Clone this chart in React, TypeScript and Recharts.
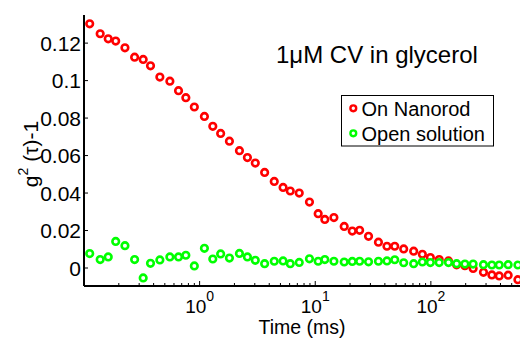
import React from "react";
import { ScatterChart, Scatter, XAxis, YAxis } from "recharts";

// lag times (ms), shared by both curves
const times = [
  0.112, 0.138, 0.162, 0.188, 0.226, 0.274, 0.325, 0.376, 0.453, 0.553,
  0.657, 0.76, 0.9, 1.1, 1.3, 1.52, 1.81, 2.21, 2.59, 3.03,
  3.65, 4.42, 5.27, 6.08, 7.27, 8.91, 10.6, 12.1, 14.5, 17.8,
  20.9, 24.2, 28.9, 35.2, 41.7, 48.7, 58.2, 71.0, 84.4, 99.0,
  118, 142, 167, 197, 232, 285, 337, 390, 466, 566,
];

const onNanorod = [
  0.1303, 0.125, 0.1223, 0.1211, 0.1175, 0.1125, 0.1113, 0.1079, 0.1019, 0.0997,
  0.0946, 0.0909, 0.0859, 0.0809, 0.0756, 0.0718, 0.0677, 0.0626, 0.0589, 0.056,
  0.051, 0.0462, 0.043, 0.0411, 0.04, 0.0352, 0.029, 0.0259, 0.0269, 0.0222,
  0.0197, 0.0201, 0.0169, 0.0138, 0.0116, 0.0116, 0.0102, 0.009, 0.0073, 0.0056,
  0.0045, 0.0038, 0.0017, 0.0012, -0.0002, -0.0023, -0.0037, -0.0042, -0.0038, -0.0062,
];

const openSolution = [
  0.0077, 0.0045, 0.0059, 0.0142, 0.0119, 0.0045, -0.0053, 0.0025, 0.0043, 0.0059,
  0.0059, 0.0068, 0.0011, 0.0105, 0.0048, 0.0075, 0.0053, 0.0078, 0.0059, 0.0041,
  0.0023, 0.0036, 0.0038, 0.0023, 0.003, 0.0049, 0.0036, 0.0045, 0.0036, 0.0032,
  0.0035, 0.0036, 0.0033, 0.0036, 0.0038, 0.0044, 0.0028, 0.0023, 0.0032, 0.0029,
  0.0029, 0.0029, 0.0023, 0.0021, 0.0021, 0.0018, 0.0016, 0.0016, 0.0018, 0.0016,
];

const xMajor = [1, 10, 100];
const xMinor = [
  0.2, 0.3, 0.4, 0.5, 0.6, 0.7, 0.8, 0.9,
  2, 3, 4, 5, 6, 7, 8, 9,
  20, 30, 40, 50, 60, 70, 80, 90,
  200, 300, 400, 500,
];
const yTicks = [0, 0.02, 0.04, 0.06, 0.08, 0.1, 0.12];
const yTickLabels = ["0", "0.02", "0.04", "0.06", "0.08", "0.1", "0.12"];

const nanorodData = times.map((t, i) => ({ t, v: onNanorod[i] }));
const openData = times.map((t, i) => ({ t, v: openSolution[i] }));
const xTicks = [...xMajor, ...xMinor].sort((a, b) => a - b);

const FONT = "'Liberation Sans', Arial, Helvetica, sans-serif";

const BottomTick = (props: any) => {
  const { x, y, payload } = props;
  const major = xMajor.includes(payload.value);
  return (
    <g>
      <line x1={x} y1={y} x2={x} y2={y - (major ? 5 : 3)} stroke="#000" strokeWidth={1} />
      {major && (
        <text x={x} y={y + 27} textAnchor="middle" fontFamily={FONT} fontSize={19} fill="#000">
          <tspan>10</tspan>
          <tspan fontSize={14} dy={-12}>{Math.round(Math.log10(payload.value))}</tspan>
        </text>
      )}
    </g>
  );
};

const TopTick = (props: any) => {
  const { x, y, payload } = props;
  const major = xMajor.includes(payload.value);
  return <line x1={x} y1={y} x2={x} y2={y + (major ? 5 : 3)} stroke="#000" strokeWidth={1} />;
};

const LeftTick = (props: any) => {
  const { x, y, payload } = props;
  const idx = yTicks.indexOf(payload.value);
  return (
    <g>
      <line x1={x} y1={y} x2={x + 4} y2={y} stroke="#000" strokeWidth={1} />
      <text x={x - 3} y={y} dy="0.36em" textAnchor="end" fontFamily={FONT} fontSize={21} fill="#000">
        {yTickLabels[idx]}
      </text>
    </g>
  );
};

const RightTick = (props: any) => {
  const { x, y } = props;
  return <line x1={x} y1={y} x2={x - 4} y2={y} stroke="#000" strokeWidth={1} />;
};

const ring = (color: string) => (p: any) => (
  <circle cx={p.cx} cy={p.cy} r={3.3} fill="#fff" stroke={color} strokeWidth={2.6} />
);

export default function App() {
  return (
    <div style={{ position: "absolute", left: 0, top: 0, width: 522, height: 339, background: "#fff" }}>
      <ScatterChart width={522} height={339} margin={{ top: 15, right: 2, bottom: 0, left: 0 }}>
        <XAxis
          xAxisId="b"
          dataKey="t"
          type="number"
          scale="log"
          domain={[0.1, 590]}
          allowDataOverflow
          ticks={xTicks}
          interval={0}
          height={53}
          tickSize={0}
          tickMargin={0}
          tickLine={false}
          axisLine={{ stroke: "#000", strokeWidth: 2 }}
          tick={<BottomTick />}
          label={{ value: "Time (ms)", position: "insideBottom", offset: 5.5, fontSize: 19.5, fill: "#000", fontFamily: FONT }}
        />
        <XAxis
          xAxisId="t"
          orientation="top"
          type="number"
          scale="log"
          domain={[0.1, 590]}
          allowDataOverflow
          ticks={xTicks}
          interval={0}
          height={0}
          tickSize={0}
          tickMargin={0}
          tickLine={false}
          axisLine={{ stroke: "#000", strokeWidth: 1.5 }}
          tick={<TopTick />}
        />
        <YAxis
          yAxisId="l"
          dataKey="v"
          type="number"
          domain={[-0.0096, 0.135]}
          allowDataOverflow
          ticks={yTicks}
          interval={0}
          width={84}
          tickSize={0}
          tickMargin={0}
          tickLine={false}
          axisLine={{ stroke: "#000", strokeWidth: 2 }}
          tick={<LeftTick />}
        />
        <YAxis
          yAxisId="r"
          orientation="right"
          type="number"
          domain={[-0.0096, 0.135]}
          allowDataOverflow
          ticks={yTicks}
          interval={0}
          width={0}
          tickSize={0}
          tickMargin={0}
          tickLine={false}
          axisLine={false}
          tick={<RightTick />}
        />
        <Scatter
          name="On Nanorod"
          data={nanorodData}
          xAxisId="b"
          yAxisId="l"
          shape={ring("#ff0000")}
          isAnimationActive={false}
        />
        <Scatter
          name="Open solution"
          data={openData}
          xAxisId="b"
          yAxisId="l"
          shape={ring("#00ff00")}
          isAnimationActive={false}
        />
      </ScatterChart>
      <svg
        width={522}
        height={339}
        style={{ position: "absolute", left: 0, top: 0, pointerEvents: "none" }}
        fontFamily={FONT}
      >
        <text x={276} y={62.5} fontSize={24} fill="#000">1μM CV in glycerol</text>
        <text x={38} y={154} fontSize={21} fill="#000" textAnchor="middle" transform="rotate(-90 38 154)">
          <tspan>g</tspan>
          <tspan fontSize={14} dy={-10}>2</tspan>
          <tspan dy={10}> (τ)-1</tspan>
        </text>
        <rect x={341.5} y={95.5} width={152} height={50.5} fill="#fff" stroke="#000" strokeWidth={1} />
        <circle cx={353.3} cy={108.3} r={2.9} fill="#fff" stroke="#ff0000" strokeWidth={2.4} />
        <circle cx={353.3} cy={133.3} r={2.9} fill="#fff" stroke="#00ff00" strokeWidth={2.4} />
        <text x={361.5} y={116} fontSize={20} fill="#000">On Nanorod</text>
        <text x={361.5} y={141} fontSize={20} fill="#000">Open solution</text>
      </svg>
    </div>
  );
}
